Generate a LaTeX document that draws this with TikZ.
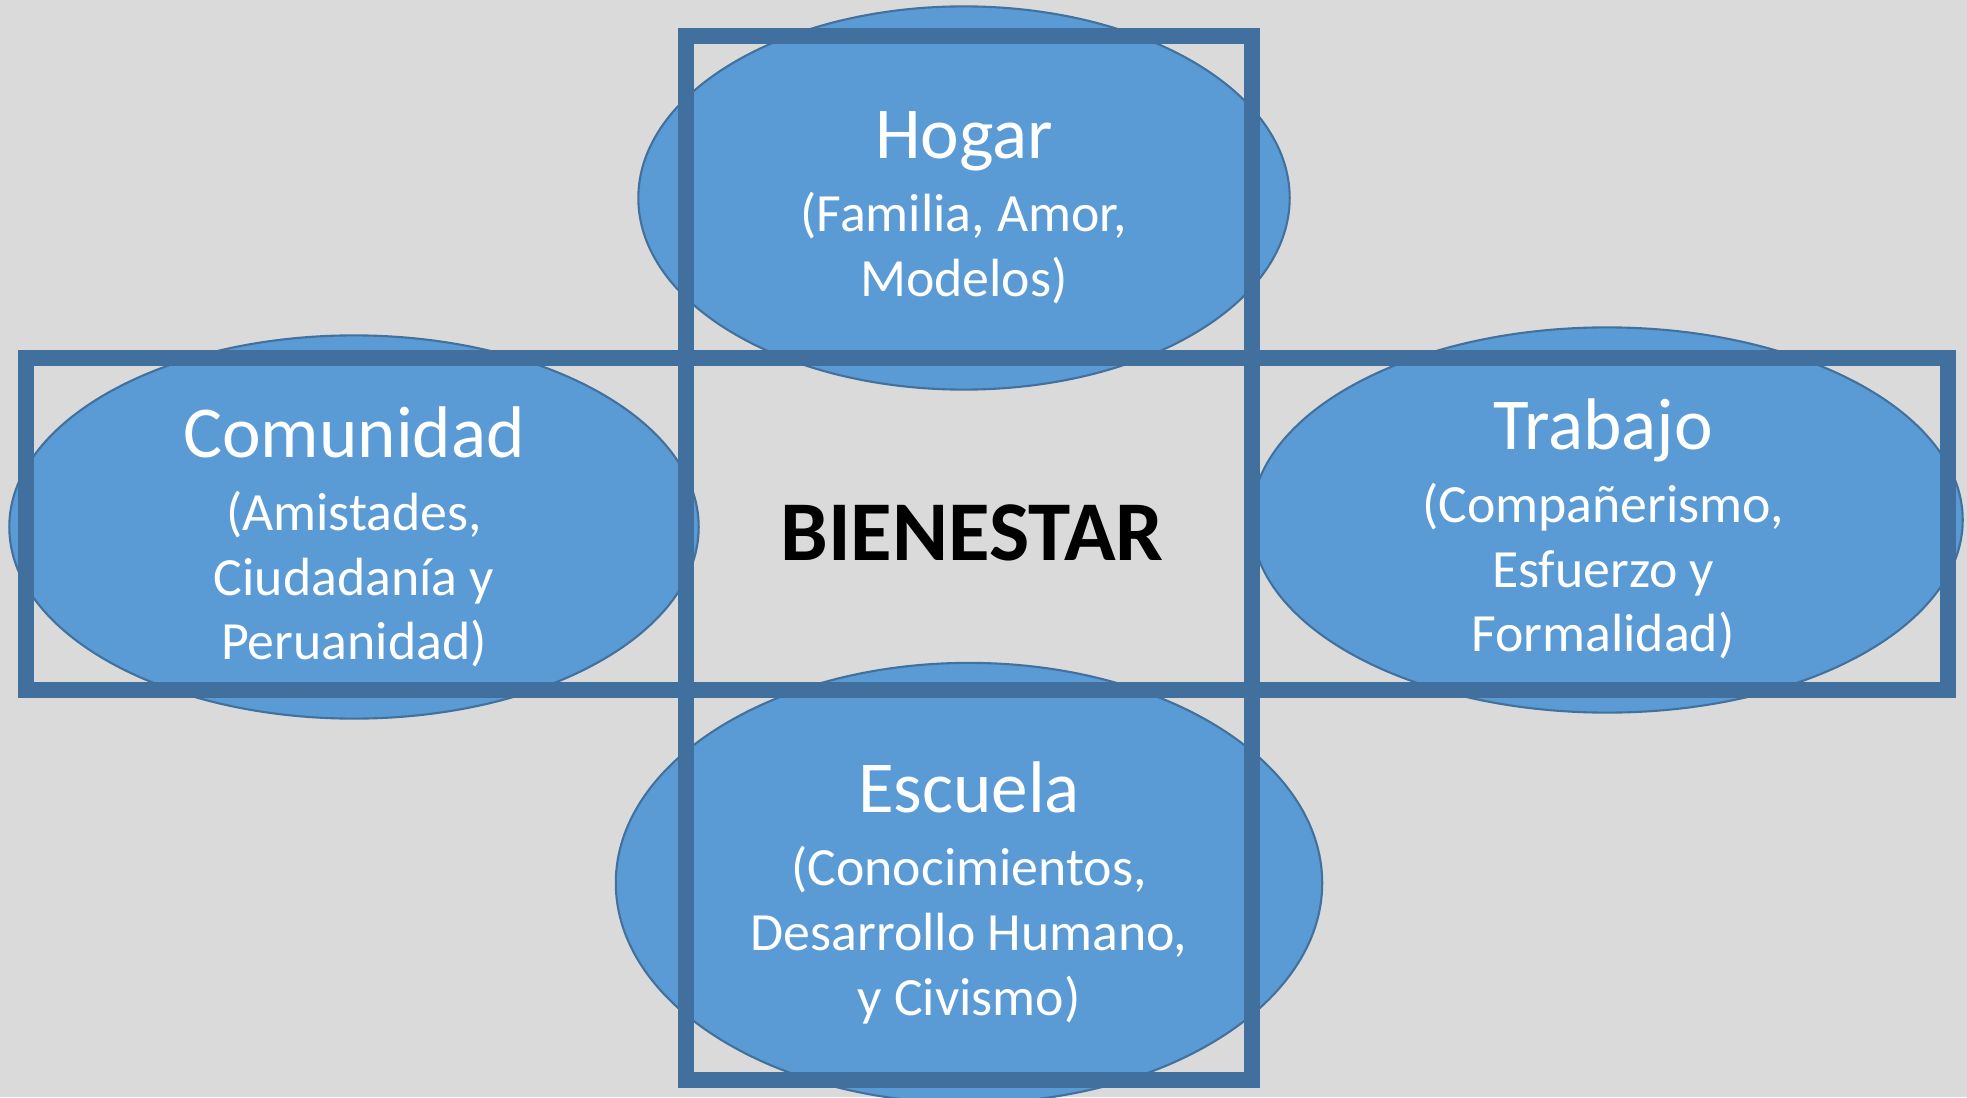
\documentclass[tikz,border=0pt]{standalone}
\usepackage{fontspec}
\setmainfont{Carlito}
\usepackage{xcolor}
\usepackage{tikz}
\usetikzlibrary{shapes.geometric}
\definecolor{custom_bg}{HTML}{DADADA}
\definecolor{custom_blue}{HTML}{5B9BD5}
\definecolor{custom_edge}{HTML}{41719C}
\definecolor{custom_frame}{HTML}{42709E}
\newcommand{\titlefont}{\fontsize{20.8}{18.4}\selectfont}
\newcommand{\subfont}{\fontsize{15.3}{18.4}\selectfont}

\begin{document}
\begin{tikzpicture}[x=0.01cm, y=-0.01cm,
    area/.style={ellipse, draw=custom_edge, line width=0.6pt, fill=custom_blue, inner sep=0pt},
    areatext/.style={text=white, align=center, font=\titlefont},
    frame/.style={draw=custom_frame, line width=0.16cm, line join=miter}]
                \fill[custom_bg] (0,0) rectangle (1967,1097);
                \useasboundingbox (0,0) rectangle (1967,1097);

                \node (hogar) at (964, 198) [area, minimum width=6.51cm, minimum height=3.83cm] {};
                \node (comunidad) at (354, 527) [area, minimum width=6.89cm, minimum height=3.83cm] {};
                \node (trabajo) at (1607, 520) [area, minimum width=7.11cm, minimum height=3.85cm] {};
                \node (escuela) at (969, 883) [area, minimum width=7.06cm, minimum height=4.4cm] {};

                \node (hogartxt) at (hogar) [areatext, yshift=-0.1cm] {Hogar\\[2.4pt]\subfont (Familia, Amor,\\\subfont Modelos)};
                \node (comunidadtxt) at (comunidad) [areatext, yshift=-0.1cm] {Comunidad\\[2.4pt]\subfont (Amistades,\\\subfont Ciudadanía y\\\subfont Peruanidad)};
                \node (trabajotxt) at (trabajo) [areatext, xshift=-0.04cm, yshift=-0.09cm] {Trabajo\\[2.4pt]\subfont (Compañerismo,\\\subfont Esfuerzo y\\\subfont Formalidad)};
                \node (escuelatxt) at (escuela) [areatext, yshift=-0.1cm] {Escuela\\[2.4pt]\subfont (Conocimientos,\\\subfont Desarrollo Humano,\\\subfont y Civismo)};

                \draw[frame] (686, 36) rectangle (1252, 1080);
                \draw[frame] (26, 358) rectangle (1948, 690);

                \node (bienestar) at (972, 533) [font=\fontsize{24.2}{28}\selectfont\bfseries] {BIENESTAR};
\end{tikzpicture}
\end{document}
